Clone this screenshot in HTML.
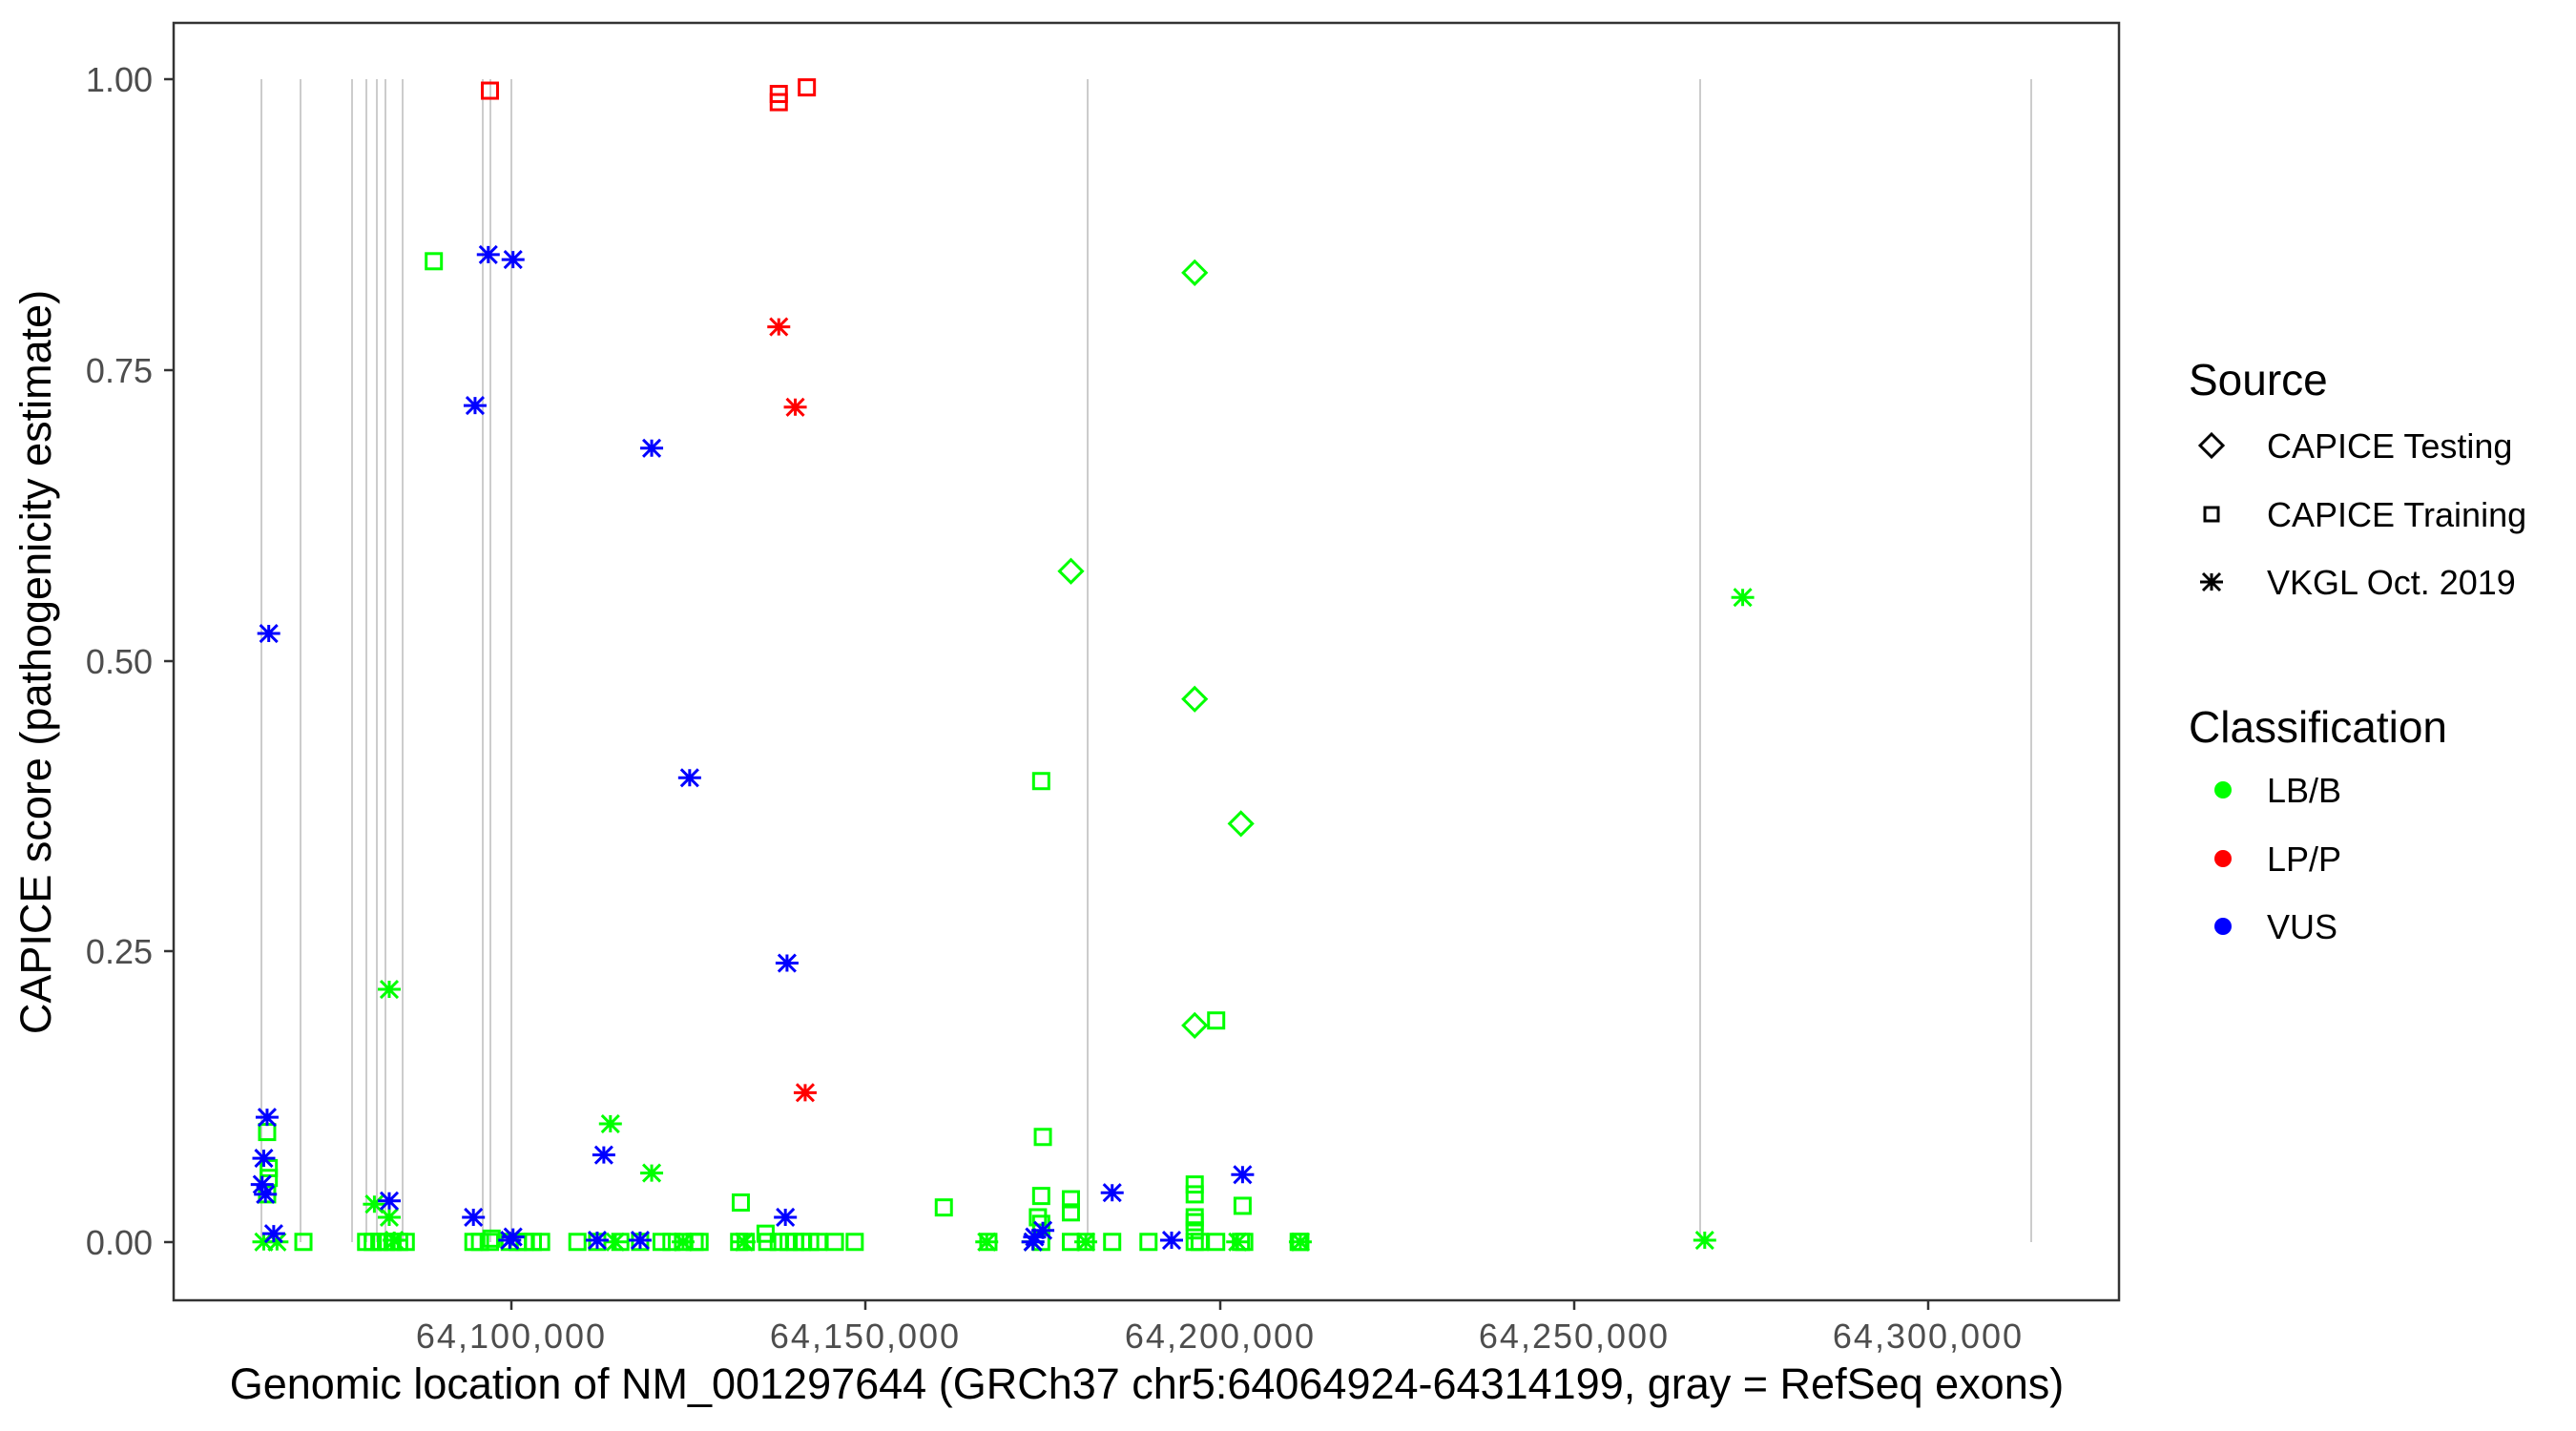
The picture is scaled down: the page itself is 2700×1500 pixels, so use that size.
<!DOCTYPE html>
<html><head><meta charset="utf-8"><style>
html,body{margin:0;padding:0;background:#fff;}
svg{display:block;font-family:"Liberation Sans",sans-serif;}
</style></head><body>
<svg id="s" width="2700" height="1500" viewBox="0 0 2700 1500" xmlns="http://www.w3.org/2000/svg">
<rect x="0" y="0" width="2700" height="1500" fill="#fff"/>
<g id="grid" stroke="#cccccc" stroke-width="2"></g>
<g id="pts" fill="none" stroke-width="3"></g>
<rect x="182" y="24" width="2039" height="1339" fill="none" stroke="#333" stroke-width="2.5"/>
<g fill="#4d4d4d" font-size="36" text-anchor="end">
<text x="160" y="96">1.00</text>
<text x="160" y="401">0.75</text>
<text x="160" y="706">0.50</text>
<text x="160" y="1010">0.25</text>
<text x="160" y="1315">0.00</text>
</g>
<g stroke="#333" stroke-width="2.5">
<line x1="172" y1="83" x2="182" y2="83"/><line x1="172" y1="388" x2="182" y2="388"/><line x1="172" y1="693" x2="182" y2="693"/><line x1="172" y1="997" x2="182" y2="997"/><line x1="172" y1="1302" x2="182" y2="1302"/>
<line x1="536" y1="1363" x2="536" y2="1373"/><line x1="907" y1="1363" x2="907" y2="1373"/><line x1="1279" y1="1363" x2="1279" y2="1373"/><line x1="1650" y1="1363" x2="1650" y2="1373"/><line x1="2021" y1="1363" x2="2021" y2="1373"/>
</g>
<g fill="#4d4d4d" font-size="36" text-anchor="middle" letter-spacing="2">
<text x="536" y="1413">64,100,000</text>
<text x="907" y="1413">64,150,000</text>
<text x="1279" y="1413">64,200,000</text>
<text x="1650" y="1413">64,250,000</text>
<text x="2021" y="1413">64,300,000</text>
</g>
<text x="1202" y="1466" font-size="45" text-anchor="middle" fill="#000">Genomic location of NM_001297644 (GRCh37 chr5:64064924-64314199, gray = RefSeq exons)</text>
<text transform="translate(53,694) rotate(-90)" font-size="45" text-anchor="middle" fill="#000">CAPICE score (pathogenicity estimate)</text>
<text x="2294" y="414" font-size="46" fill="#000">Source</text>
<text x="2376" y="480" font-size="36" fill="#000">CAPICE Testing</text>
<text x="2376" y="552" font-size="36" fill="#000">CAPICE Training</text>
<text x="2376" y="623" font-size="36" fill="#000">VKGL Oct. 2019</text>
<text x="2294" y="778" font-size="46" fill="#000">Classification</text>
<text x="2376" y="841" font-size="36" fill="#000">LB/B</text>
<text x="2376" y="913" font-size="36" fill="#000">LP/P</text>
<text x="2376" y="984" font-size="36" fill="#000">VUS</text>
<g id="leg" fill="none" stroke="#000" stroke-width="3"></g>
<circle cx="2330" cy="828" r="9" fill="#00ff00"/>
<circle cx="2330" cy="900" r="9" fill="#ff0000"/>
<circle cx="2330" cy="971" r="9" fill="#0000ff"/>
</svg>
<script>
var NS="http://www.w3.org/2000/svg";
function el(p,t,a){var e=document.createElementNS(NS,t);for(var k in a)e.setAttribute(k,a[k]);p.appendChild(e);return e;}
var g=document.getElementById("grid");
[274,315,369,384,395,404,422,506,514,536,1140,1782,2129].forEach(function(x){el(g,"line",{x1:x,y1:83,x2:x,y2:1302});});
function X(o){return 536+(o-312)*1.73;}
function Y(o){return 83+(o-48)*1.719;}
var P=document.getElementById("pts");
function sq(p,x,y,c){el(p,"rect",{x:x-8,y:y-8,width:16,height:16,stroke:c});}
function st(p,x,y,c){var r=12,d=r*0.75;el(p,"path",{d:"M"+(x-r)+" "+y+"H"+(x+r)+"M"+x+" "+(y-d)+"V"+(y+d)+"M"+(x-d)+" "+(y-d)+"L"+(x+d)+" "+(y+d)+"M"+(x-d)+" "+(y+d)+"L"+(x+d)+" "+(y-d),stroke:c});}
function di(p,x,y,c){var r=12;el(p,"path",{d:"M"+x+" "+(y-r)+"L"+(x+r)+" "+y+"L"+x+" "+(y+r)+"L"+(x-r)+" "+y+"Z",stroke:c});}
var G="#00ff00",R="#ff0000",B="#0000ff";
var gs=[[265,159],[633,476],[739,622],[634,693],[164,690],[165,712],[165,718],[633,729],[651,731],[651,739],[726,722],[726,728],[726,742],[726,745],[726,750],[755,735],[451,733],[574,736],[631,742],[633,746],[164,728],[466,752],[300,755]];
[186,224,228,232,236,240,244,248,289,293,299,311,316,320,325,330,352,364,378,390,403,409,416,423,426,450,454,467,474,480,484,488,493,498,508,520,601,633,651,660,676,698,726,729,739,754,756,789,790].forEach(function(x){gs.push([x,757]);});
gs.forEach(function(p){sq(P,X(p[0]),Y(p[1]),G);});
[[238,603],[372,685],[397,715],[1058,364],[229,734],[238,742],[162,757],[170,757],[241,756],[600,757],[416,757],[1035,756],[752,757],[790,757],[628,757],[660,757],[375,757],[453,757]].forEach(function(p){st(P,X(p[0]),Y(p[1]),G);});
[[726,166],[651,348],[726,426],[754,502],[726,625]].forEach(function(p){di(P,X(p[0]),Y(p[1]),G);});
[[299,55],[474,57],[474,62],[491,53]].forEach(function(p){sq(P,X(p[0]),Y(p[1]),R);});
[[474,199],[484,248],[490,666]].forEach(function(p){st(P,X(p[0]),Y(p[1]),R);});
[[298,155],[313,158],[290,247],[397,273],[165,386],[420,474],[479,587],[164,681],[162,706],[161,722],[163,728],[238,732],[368,704],[676,727],[755,716],[289,742],[478,742],[313,754],[311,756],[168,752],[364,756],[390,756],[629,754],[634,750],[712,756],[628,757]].forEach(function(p){st(P,X(p[0]),Y(p[1]),B);});
var L=document.getElementById("leg");
di(L,2318,467,"#000");
el(L,"rect",{x:2311,y:532,width:14,height:14,stroke:"#000"});
st(L,2318,610,"#000");
</script>
</body></html>
